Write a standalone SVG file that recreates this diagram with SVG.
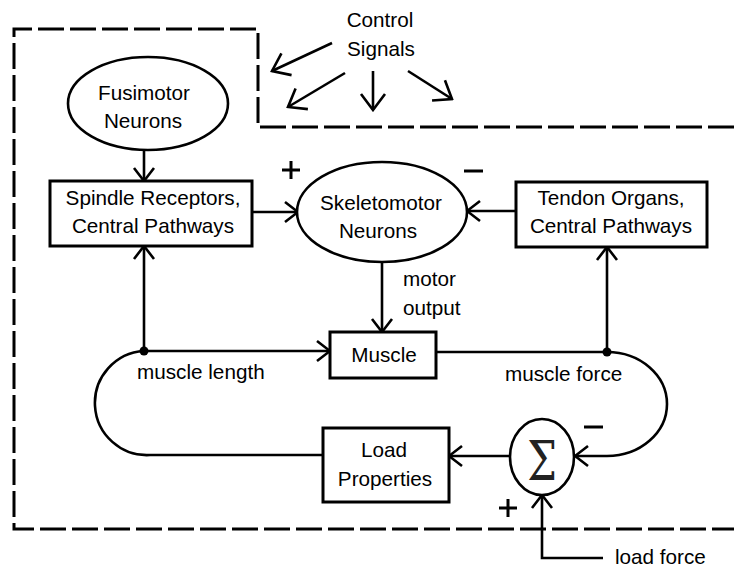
<svg xmlns="http://www.w3.org/2000/svg" width="734" height="568" viewBox="0 0 734 568">
  <style>
    text { font-family: "Liberation Sans", Arial, sans-serif; font-size: 20.7px; fill: #000; }
    .mid { text-anchor: middle; }
    .box { fill: #fff; stroke: #000; stroke-width: 3; }
    .oval { fill: #fff; stroke: #000; stroke-width: 2.6; }
    .wire { fill: none; stroke: #000; stroke-width: 2.6; }
    .ctl { fill: none; stroke: #000; stroke-width: 2.6; marker-end: url(#headBig); }
    .arr { marker-end: url(#head); }
    .bound { fill: none; stroke: #000; stroke-width: 3; stroke-dasharray: 26 6; }
    .sign { fill: none; stroke: #000; stroke-width: 3; }
  </style>
  <defs>
    <marker id="head" markerUnits="userSpaceOnUse" viewBox="-16 -12 18 24" markerWidth="18" markerHeight="24" refX="0" refY="0" orient="auto">
      <path d="M-13,-10 L0,0 L-13,10" fill="none" stroke="#000" stroke-width="2.6"/>
    </marker>
    <marker id="headBig" markerUnits="userSpaceOnUse" viewBox="-20 -15 22 30" markerWidth="22" markerHeight="30" refX="0" refY="0" orient="auto">
      <path d="M-16,-12 L0,0 L-16,12" fill="none" stroke="#000" stroke-width="2.6"/>
    </marker>
  </defs>

  <!-- system boundary -->
  <path class="bound" d="M734,127 L258,127 L258,29 L14,29 L14,529 L734,529"/>

  <!-- control signals -->
  <g id="control-signals">
    <text class="mid" x="380" y="27">Control</text>
    <text class="mid" x="381" y="56">Signals</text>
    <line class="ctl" x1="332" y1="43" x2="272" y2="71"/>
    <line class="ctl" x1="345" y1="73" x2="288" y2="107"/>
    <line class="ctl" x1="373" y1="71" x2="373" y2="110"/>
    <line class="ctl" x1="408" y1="71" x2="452" y2="99"/>
  </g>

  <!-- connectors -->
  <g id="connectors">
    <line class="wire arr" x1="144" y1="150" x2="144" y2="181"/>
    <line class="wire arr" x1="252" y1="212" x2="298" y2="212"/>
    <line class="wire arr" x1="516" y1="211" x2="467" y2="211"/>
    <line class="wire arr" x1="382" y1="262" x2="382" y2="332"/>
    <line class="wire arr" x1="144" y1="351" x2="330" y2="351"/>
    <line class="wire arr" x1="144" y1="351" x2="144" y2="246"/>
    <line class="wire" x1="436" y1="352" x2="607" y2="352"/>
    <line class="wire arr" x1="607" y1="352" x2="607" y2="247"/>
    <path class="wire" d="M144,351 A52,52 0 0 0 150,455 L323,455"/>
    <path class="wire arr" d="M607,352 A60,52 0 0 1 607,456 L575,456"/>
    <line class="wire arr" x1="510" y1="456" x2="449" y2="456"/>
    <path class="wire arr" d="M603,558 L542,558 L542,495"/>
    <circle cx="144" cy="351" r="4.5" fill="#000"/>
    <circle cx="607" cy="352" r="4.5" fill="#000"/>
    <text x="403" y="286">motor</text>
    <text x="403" y="315">output</text>
    <text x="137" y="379">muscle length</text>
    <text x="505" y="381">muscle force</text>
    <text x="615" y="564">load force</text>
    <!-- signs -->
    <path class="sign" d="M282,170 H300 M291,161 V179"/>
    <path class="sign" d="M464,171 H483"/>
    <path class="sign" d="M584,427 H603"/>
    <path class="sign" d="M499,508 H517 M508,499 V517"/>
  </g>

  <g id="fusimotor">
    <ellipse class="oval" cx="148" cy="103.5" rx="80" ry="46.5"/>
    <text class="mid" x="144" y="100">Fusimotor</text>
    <text class="mid" x="143" y="128">Neurons</text>
  </g>

  <g id="spindle">
    <rect class="box" x="50" y="181" width="202" height="65"/>
    <text class="mid" x="153" y="205">Spindle Receptors,</text>
    <text class="mid" x="153" y="233">Central Pathways</text>
  </g>

  <g id="skeletomotor">
    <ellipse class="oval" cx="382" cy="212" rx="85" ry="50"/>
    <text class="mid" x="381" y="210">Skeletomotor</text>
    <text class="mid" x="378" y="238">Neurons</text>
  </g>

  <g id="tendon">
    <rect class="box" x="516" y="182" width="191" height="65"/>
    <text class="mid" x="611" y="205">Tendon Organs,</text>
    <text class="mid" x="611" y="233">Central Pathways</text>
  </g>

  <g id="muscle">
    <rect class="box" x="330" y="332" width="106" height="46"/>
    <text class="mid" x="384" y="362">Muscle</text>
  </g>

  <g id="load">
    <rect class="box" x="323" y="428" width="126" height="74"/>
    <text class="mid" x="384" y="457">Load</text>
    <text class="mid" x="385" y="486">Properties</text>
  </g>

  <g id="sum">
    <ellipse class="oval" cx="542" cy="457" rx="32" ry="38"/>
    <text class="mid" transform="translate(542,480) scale(1,1.3)" style="font-family:'DejaVu Serif','Liberation Serif',serif;font-size:42px;font-weight:300;fill:#222">Σ</text>
  </g>
</svg>
